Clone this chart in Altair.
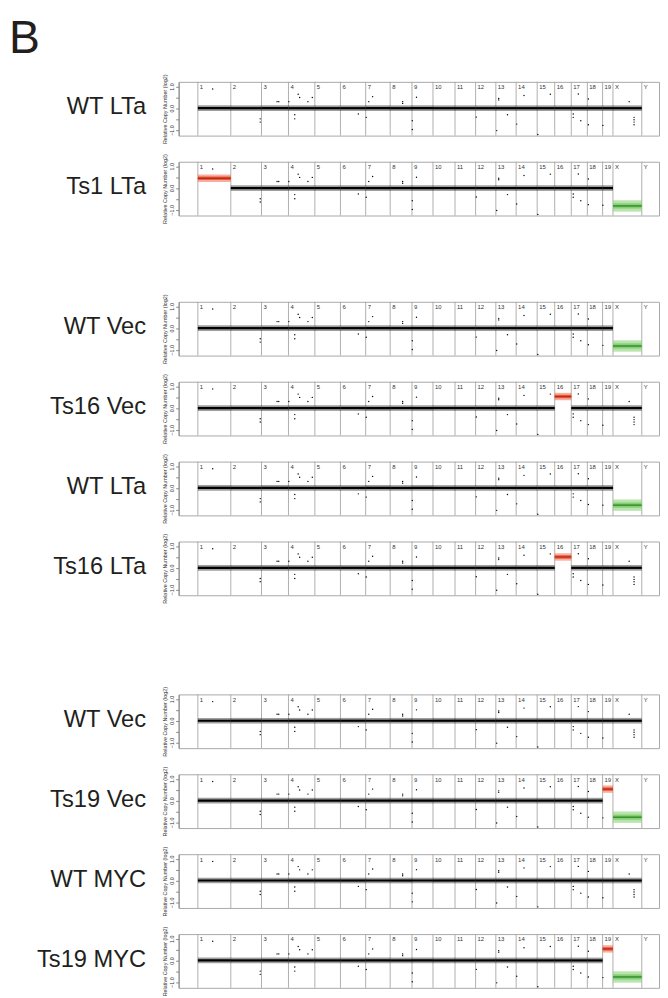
import altair as alt
import pandas as pd

# ---------------- data ----------------
chrom_names = ["1", "2", "3", "4", "5", "6", "7", "8", "9", "10", "11", "12",
               "13", "14", "15", "16", "17", "18", "19", "X", "Y"]
chrom_len_mb = [195.5, 182.1, 160.0, 156.5, 151.8, 149.7, 145.4, 129.4, 124.6,
                130.7, 122.1, 120.1, 120.4, 124.9, 104.0, 98.2, 95.3, 90.7,
                61.4, 171.0, 91.7]

figure_letter = "B"
panel_labels = ["WT LTa", "Ts1 LTa", "WT Vec", "Ts16 Vec", "WT LTa",
                "Ts16 LTa", "WT Vec", "Ts19 Vec", "WT MYC", "Ts19 MYC"]
gained_chrom = ["", "1", "", "16", "", "16", "", "19", "", "19"]
gain_level = [0.0, 0.45, 0.0, 0.53, 0.0, 0.50, 0.0, 0.53, 0.0, 0.53]
chrX_level = [0.0, -0.82, -0.82, 0.0, -0.79, 0.0, 0.0, -0.76, 0.0, -0.76]

# scattered single probes (genome position in Mb, log2 value)
outlier_mb = [88, 370, 370, 470, 480, 540, 575, 575, 595, 604, 653, 679,
              952, 999, 1014, 1037, 1215, 1215, 1272, 1272, 1297, 1652,
              1773, 1785, 1785, 1837, 1892, 1935, 2017, 2091, 2227, 2227,
              2257, 2272, 2317, 2317, 2403]
outlier_val = [0.88, -0.49, -0.64, 0.30, 0.30, 0.30, -0.30, -0.49, 0.64, 0.49,
               0.30, 0.49, -0.27, -0.42, 0.30, 0.53, 0.30, 0.22, -0.58, -0.98,
               0.50, -0.41, -1.03, 0.45, 0.38, -0.30, -0.73, 0.58, -1.21,
               0.64, -0.27, -0.42, 0.65, -0.58, 0.42, -0.76, -0.79]
x_outlier_mb = [2559, 2588, 2588, 2588, 2588]
x_outlier_val = [0.30, -0.42, -0.53, -0.64, -0.76]

# ---------------- derived tables ----------------
chrom_start = []
acc = 0.0
for L in chrom_len_mb:
    chrom_start.append(acc)
    acc += L
chrom_df = pd.DataFrame({"chrom": chrom_names, "start": chrom_start})

FRINGE = {"normal": 0.13, "gain": 0.17, "loss": 0.26}
CORE = {"normal": 0.05, "gain": 0.08, "loss": 0.12}


def segments(p):
    rows = []
    for i, c in enumerate(chrom_names[:-1]):
        if c == gained_chrom[p]:
            kind, lvl = "gain", gain_level[p]
        elif c == "X" and chrX_level[p] < -0.3:
            kind, lvl = "loss", chrX_level[p]
        else:
            kind, lvl = "normal", (chrX_level[p] if c == "X" else 0.0)
        rows.append({"chrom": c, "start": chrom_start[i],
                     "end": chrom_start[i] + chrom_len_mb[i], "level": lvl,
                     "kind": kind,
                     "f_lo": lvl - FRINGE[kind], "f_hi": lvl + FRINGE[kind],
                     "c_lo": lvl - CORE[kind], "c_hi": lvl + CORE[kind]})
    return pd.DataFrame(rows)


def outliers(p):
    mb = list(outlier_mb)
    val = list(outlier_val)
    if chrX_level[p] > -0.3:
        mb += x_outlier_mb
        val += x_outlier_val
    return pd.DataFrame({"pos": mb, "val": val})


# ---------------- styling ----------------
W, H = 487, 54.5
xscale = alt.Scale(domain=[-114, 2736], nice=False, zero=False)
yscale = alt.Scale(domain=[-1.26, 1.21], nice=False, zero=False)
yaxis = alt.Axis(values=[-1, -0.5, 0, 0.5, 1],
                 labelExpr="abs(datum.value) == 0.5 ? '' : format(datum.value, '.1f')",
                 labelAngle=270, labelFontSize=5.5, labelColor="#333333",
                 labelPadding=1, title="Relative Copy Number (log2)",
                 titleFontSize=5.5, titleFontWeight="normal",
                 titleColor="#333333", titlePadding=2, tickSize=3,
                 tickColor="#888888", domainColor="#888888", grid=False)

fringe_scale = alt.Scale(domain=["normal", "gain", "loss"],
                         range=["rgba(0,0,0,0.38)", "rgba(242,110,80,0.55)",
                                "rgba(140,210,120,0.6)"])
core_scale = alt.Scale(domain=["normal", "gain", "loss"],
                       range=["#000000", "#ee5a3c", "#86cf72"])
line_scale = alt.Scale(domain=["gain", "loss"], range=["#b8301c", "#2f8a2f"])


def X(f):
    return alt.X(f, type="quantitative", scale=xscale, axis=None)


def Y(f):
    return alt.Y(f, type="quantitative", scale=yscale, axis=yaxis)


def panel(p):
    seg = alt.Chart(segments(p))
    chroms = alt.Chart(chrom_df)
    borders = chroms.mark_rule(color="#a6a6a6", strokeWidth=0.9).encode(x=X("start"))
    fringe = seg.mark_rect().encode(
        x=X("start"), x2="end", y=Y("f_lo"), y2="f_hi",
        color=alt.Color("kind:N", scale=fringe_scale, legend=None))
    core = seg.mark_rect().encode(
        x=X("start"), x2="end", y=Y("c_lo"), y2="c_hi",
        color=alt.Color("kind:N", scale=core_scale, legend=None))
    mean_line = seg.transform_filter("datum.kind != 'normal'").mark_rule(
        strokeWidth=1.4).encode(
        x=X("start"), x2="end", y=Y("level"),
        color=alt.Color("kind:N", scale=line_scale, legend=None))
    dots = alt.Chart(outliers(p)).mark_circle(size=2, color="#000000", opacity=1).encode(
        x=X("pos"), y=Y("val"))
    chrom_txt = chroms.mark_text(align="left", baseline="top", dx=2, fontSize=6,
                                 color="#333333").encode(
        x=X("start"), y=alt.value(2.5), text="chrom")
    row_txt = alt.Chart(pd.DataFrame({"label": [panel_labels[p]]})).mark_text(
        align="right", baseline="middle", fontSize=24, color="#231f20").encode(
        x=alt.value(-33), y=alt.value(26), text="label")
    layers = [borders, fringe, core, mean_line, dots, chrom_txt, row_txt]
    if p == 0:
        letter = alt.Chart(pd.DataFrame({"t": [figure_letter]})).mark_text(
            align="left", baseline="top", fontSize=47,
            color="#231f20").encode(
            x=alt.value(-172), y=alt.value(-66.5), text="t")
        layers.append(letter)
    return alt.layer(*layers).resolve_scale(
        color="independent").properties(width=W, height=H)


def spacer(h):
    return alt.Chart(pd.DataFrame({"s": [0]})).mark_point(opacity=0).properties(
        width=W, height=h, view=alt.ViewBackground(stroke=None))


items = [panel(0), panel(1), spacer(35), panel(2), panel(3), panel(4), panel(5),
         spacer(48), panel(6), panel(7), panel(8), panel(9)]

chart = alt.vconcat(*items, spacing=26, bounds="flush").properties(
    padding={"left": 0, "top": 0, "right": 0, "bottom": 0},
).configure(font="Liberation Sans").configure_view(stroke="#a8a8a8", strokeWidth=1)

chart.save("out.html", embed_options={"renderer": "svg", "actions": False})
